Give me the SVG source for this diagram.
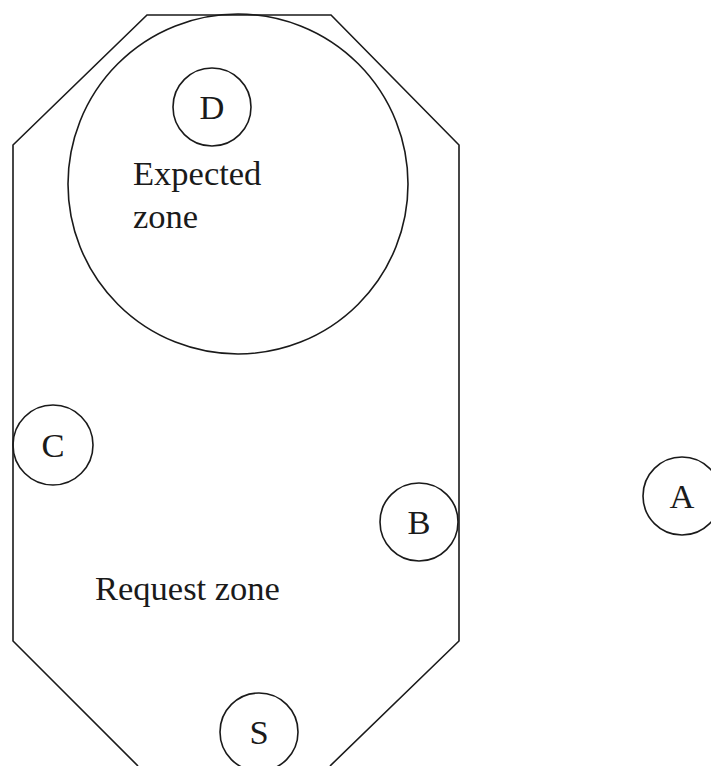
<svg xmlns="http://www.w3.org/2000/svg" width="711" height="766" viewBox="0 0 711 766">
<style>
.s{fill:none;stroke:#1a1a1a;stroke-width:1.6}
.t{font-family:"Liberation Serif","Times New Roman",serif;font-size:34.5px;fill:#1a1a1a}
.c{text-anchor:middle}
</style>
<rect width="711" height="766" fill="#fff"/>
<g id="request-zone">
<path class="s" d="M138,766 L13,641 L13,145 L147,15 L331,15 L459,145 L459,641 L330,766"/>
<text class="t" x="95" y="600">Request zone</text>
</g>
<g id="expected-zone">
<circle class="s" cx="238" cy="184" r="170"/>
<text class="t" x="133" y="185">Expected</text>
<text class="t" x="133" y="228">zone</text>
</g>
<g id="node-D"><circle class="s" cx="212" cy="107" r="39"/><text class="t c" x="212" y="119">D</text></g>
<g id="node-C"><circle class="s" cx="53" cy="445" r="40"/><text class="t c" x="53" y="457">C</text></g>
<g id="node-B"><circle class="s" cx="419" cy="522" r="39"/><text class="t c" x="419" y="534">B</text></g>
<g id="node-A"><circle class="s" cx="682" cy="496" r="39"/><text class="t c" x="682" y="508">A</text></g>
<g id="node-S"><circle class="s" cx="259" cy="732" r="39"/><text class="t c" x="259" y="744">S</text></g>
<g id="connectors"></g>
</svg>
